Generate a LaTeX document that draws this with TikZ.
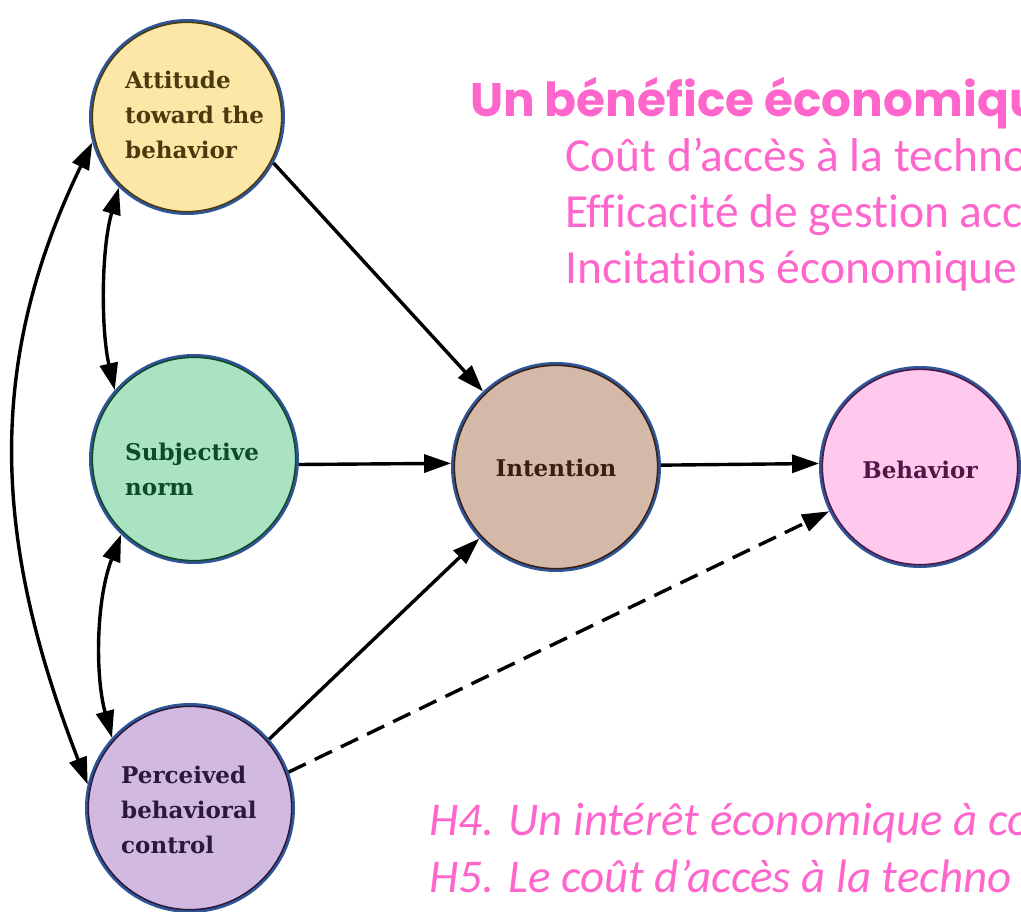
\documentclass[tikz,border=0pt]{standalone}
\usepackage{fontspec}
\usetikzlibrary{arrows.meta}
\newfontfamily\titlefont{Poppins}
\newfontfamily\bodyfont{Carlito}[Ligatures=NoCommon]
\newfontfamily\nodefont{DejaVu Serif}
\definecolor{pinktxt}{HTML}{FF66CC}
\definecolor{ringblue}{HTML}{2F5597}
\definecolor{attfill}{HTML}{FDE7A6}
\definecolor{attdark}{HTML}{4A3A0E}
\definecolor{subfill}{HTML}{A9E3C2}
\definecolor{subdark}{HTML}{0E4A24}
\definecolor{intfill}{HTML}{D5B9A8}
\definecolor{intdark}{HTML}{3A1E12}
\definecolor{bhvfill}{HTML}{FFC9EE}
\definecolor{bhvdark}{HTML}{4E1746}
\definecolor{perfill}{HTML}{D1B9E1}
\definecolor{perdark}{HTML}{2C1838}
\tikzset{
  circ/.style n args={3}{circle, inner sep=0pt, minimum size={2*#3-2.5pt},
    fill=#1, draw=ringblue, line width=2.5pt,
    path picture={\draw[#2, line width=2.4pt] (path picture bounding box.center) circle ({#3-2.9pt});}},
  lbl/.style={anchor=base west, inner sep=0pt, align=left,
    font=\nodefont\bfseries\fontsize{23}{35}\selectfont},
  clbl/.style={anchor=base, inner sep=0pt, font=\nodefont\bfseries\fontsize{23}{35}\selectfont},
  arr/.style={-{Triangle[length=27pt,width=18pt]}, line width=3.4pt, black},
  darr/.style={{Triangle[length=27pt,width=18pt]}-{Triangle[length=27pt,width=18pt]}, line width=3.4pt, black},
  ptxt/.style={anchor=base west, inner sep=0pt, text=pinktxt},
  listtxt/.style={ptxt, font=\bodyfont\fontsize{47.5}{56}\selectfont},
  hyptxt/.style={ptxt, font=\bodyfont\itshape\fontsize{47}{56}\selectfont},
}
\begin{document}
\begin{tikzpicture}[x=1pt,y=-1pt]
\useasboundingbox (0,0) rectangle (1021,912);
% circles
\node[circ={attfill}{attdark}{98pt}] (att) at (187,117) {};
\node[circ={subfill}{subdark}{105pt}] (sub) at (194,459) {};
\node[circ={perfill}{perdark}{105pt}] (per) at (190,808) {};
\node[circ={intfill}{intdark}{105pt}] (int) at (556,467) {};
\node[circ={bhvfill}{bhvdark}{101pt}] (bhv) at (920,467) {};
% labels (anchor = baseline of last line)
\node[lbl, text=attdark] (attl) at (125,159) {Attitude\\toward the\\behavior};
\node[lbl, text=subdark] (subl) at (125,495) {Subjective\\norm};
\node[lbl, text=perdark] (perl) at (121,853) {Perceived\\behavioral\\control};
\node[clbl, text=intdark] (intl) at (556,476) {Intention};
\node[clbl, text=bhvdark] (bhvl) at (920,478) {Behavior};
% connectors
\draw[arr] (att.-28) -- (int.134);
\draw[arr] (sub.-3) -- (int.178.5);
\draw[arr] (per.41) -- (int.223);
\draw[arr] (int.1.5) -- (bhv.178);
\draw[arr, dash pattern=on 19pt off 10pt] (per.20) -- (bhv.206);
\draw[darr] (att.226) .. controls (101,250) and (101,330) .. (sub.139);
\draw[darr] (sub.226) .. controls (96,600) and (95,675) .. (per.138);
\draw[darr] (att.195) .. controls (-18,370) and (-4,548) .. (per.167);
% texts
\node[ptxt, font=\titlefont\bfseries\fontsize{47}{56}\selectfont] (title) at (470,117) {Un bénéfice économiqu};
\node[listtxt] (l1) at (565,172) {Coût d’accès à la techno};
\node[listtxt] (l2) at (565,228) {Efficacité de gestion acc};
\node[listtxt] (l3) at (565,284) {Incitations économique};
\node[hyptxt] (h4) at (429,835) {H4. Un intérêt économique à co};
\node[hyptxt] (h5) at (429,892) {H5. Le coût d’accès à la techno};
\end{tikzpicture}
\end{document}
